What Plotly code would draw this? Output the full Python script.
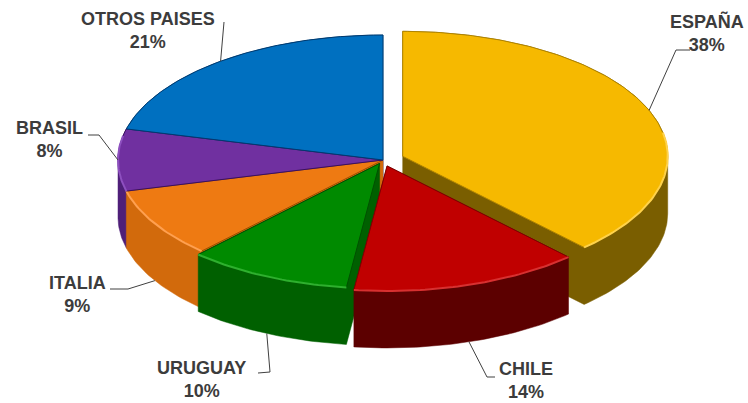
import numpy as np
import plotly.graph_objects as go

# ---------------- data ----------------
labels = ["ESPAÑA", "CHILE", "URUGUAY", "ITALIA", "BRASIL", "OTROS PAISES"]
values = [38, 14, 10, 9, 8, 21]
pct_text = ["38%", "14%", "10%", "9%", "8%", "21%"]

# ---------------- styles ----------------
top_colors = ["#F6B900", "#C00000", "#008A00", "#EE7A12", "#7030A0", "#0070C0"]
side_colors = ["#7A5E00", "#5C0000", "#006000", "#D26A0C", "#4E1F78", "#00508A"]
rim_colors = ["#FFD24A", "#D83030", "#2EB02E", "#FFA050", "#8E50C0", "#3090E0"]
edge_colors = ["#B08400", "#800000", "#005000", "#A05000", "#3A1060", "#003A70"]
pulls = [0.08, 0.05, 0.03, 0.0, 0.0, 0.0]

CX, CY, RX, RY, DEPTH = 383, 160, 265, 125, 57
W, H = 748, 403

# label block centres and leader elbows (layout)
label_pos = [(707, 33), (526, 380), (201, 379), (77, 294), (49, 139), (148, 30)]
leader_mid = [[(676, 50), (690, 50)], [(487, 377), (495, 377)], [(270, 372), (258, 373)],
              [(128, 289), (110, 289)], [(99, 135), (88, 135)], [(224, 22)]]


def ell(theta, off=(0.0, 0.0), dz=0.0):
    return (CX + off[0] + RX * np.sin(theta), CY + off[1] - RY * np.cos(theta) + dz)


def hull(points):
    pts = sorted(set(points))
    if len(pts) <= 2:
        return pts

    def cross(o, a, b):
        return (a[0] - o[0]) * (b[1] - o[1]) - (a[1] - o[1]) * (b[0] - o[0])

    lower, upper = [], []
    for p in pts:
        while len(lower) >= 2 and cross(lower[-2], lower[-1], p) <= 0:
            lower.pop()
        lower.append(p)
    for p in reversed(pts):
        while len(upper) >= 2 and cross(upper[-2], upper[-1], p) <= 0:
            upper.pop()
        upper.append(p)
    return lower[:-1] + upper[:-1]


total = float(sum(values))
fracs = np.array(values) / total
starts = np.concatenate([[0], np.cumsum(fracs)[:-1]]) * 2 * np.pi
ends = np.cumsum(fracs) * 2 * np.pi

slices = []
for i in range(len(values)):
    t0, t1 = starts[i], ends[i]
    tm = 0.5 * (t0 + t1)
    off = (pulls[i] * RX * np.sin(tm), -pulls[i] * RY * np.cos(tm))
    n = max(8, int((t1 - t0) / (2 * np.pi) * 360))
    ts = np.linspace(t0, t1, n)
    apex = (CX + off[0], CY + off[1])
    arc = [ell(t, off) for t in ts]
    top = [apex] + arc
    bottom = [(x, y + DEPTH) for x, y in top]
    slices.append(dict(tm=tm, off=off, top=top, bottom=bottom, arc=arc, ts=ts))

fig = go.Figure()

# sides, painted back to front
order = sorted(range(len(values)),
               key=lambda i: np.mean([p[1] for p in slices[i]["top"]]))
for i in order:
    s = slices[i]
    hp = hull([(round(x, 3), round(y, 3)) for x, y in s["top"] + s["bottom"]])
    hp = hp + [hp[0]]
    fig.add_trace(go.Scatter(x=[p[0] for p in hp], y=[p[1] for p in hp], mode="lines",
                             fill="toself", fillcolor=side_colors[i],
                             line=dict(color=side_colors[i], width=0.5),
                             hoverinfo="skip", showlegend=False))

# top faces
for i in range(len(values)):
    s = slices[i]
    poly = s["top"] + [s["top"][0]]
    fig.add_trace(go.Scatter(x=[p[0] for p in poly], y=[p[1] for p in poly], mode="lines",
                             fill="toself", fillcolor=top_colors[i],
                             line=dict(color=edge_colors[i], width=1),
                             hoverinfo="skip", showlegend=False))
    # light bevel on front rim
    front = [p for t, p in zip(s["ts"], s["arc"]) if np.cos(t) < 0.2]
    if len(front) > 1:
        fig.add_trace(go.Scatter(x=[p[0] for p in front], y=[p[1] for p in front], mode="lines",
                                 line=dict(color=rim_colors[i], width=2),
                                 hoverinfo="skip", showlegend=False))

# leader lines and labels
for i in range(len(values)):
    s = slices[i]
    tm = s["tm"]
    dz = DEPTH if np.cos(tm) < -0.1 else 0.0
    anchor = ell(tm, s["off"], dz)
    pts = [anchor] + leader_mid[i]
    fig.add_trace(go.Scatter(x=[p[0] for p in pts], y=[p[1] for p in pts], mode="lines",
                             line=dict(color="#404040", width=1),
                             hoverinfo="skip", showlegend=False))
    fig.add_annotation(x=label_pos[i][0], y=label_pos[i][1], xref="x", yref="y",
                       text=f"<b>{labels[i]}</b><br><b>{pct_text[i]}</b>",
                       showarrow=False, align="center", xanchor="center", yanchor="middle",
                       font=dict(family="Liberation Sans, Arial, sans-serif", size=18,
                                 color="#3C3C3C"))

fig.update_layout(
    width=W, height=H,
    margin=dict(l=0, r=0, t=0, b=0),
    paper_bgcolor="white", plot_bgcolor="white",
    xaxis=dict(range=[0, W], visible=False, fixedrange=True),
    yaxis=dict(range=[H, 0], visible=False, fixedrange=True),
    showlegend=False,
)

fig.write_html("out.html")
